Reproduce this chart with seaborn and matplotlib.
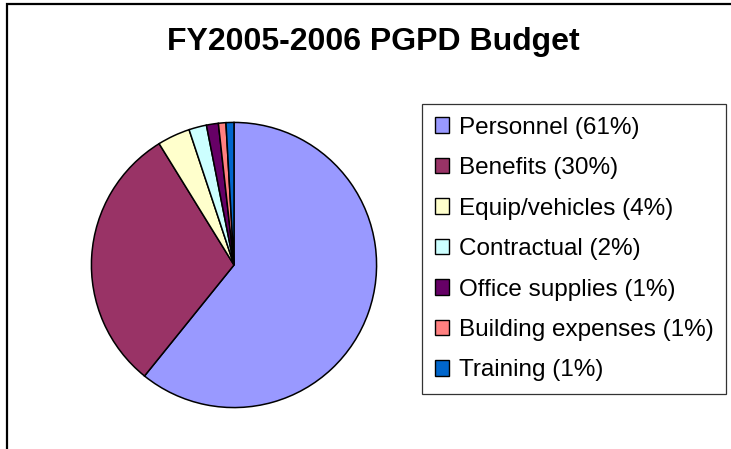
import matplotlib
matplotlib.use("Agg")
import matplotlib.pyplot as plt
import seaborn as sns
from matplotlib.patches import Patch, Rectangle

# budget shares (legend shows rounded values)
categories = ["Personnel", "Benefits", "Equip/vehicles", "Contractual",
              "Office supplies", "Building expenses", "Training"]
shares = [60.8, 30.4, 3.7, 2.0, 1.35, 0.85, 0.9]
legend_pct = [61, 30, 4, 2, 1, 1, 1]
colors = ["#9999FF", "#993366", "#FFFFCC", "#CCFFFF", "#660066", "#FF8080", "#0066CC"]

sns.set_theme(style="white")
plt.rcParams['font.family'] = ['Liberation Sans', 'DejaVu Sans']
plt.rcParams['text.color'] = 'black'

W, H = 731, 449
fig = plt.figure(figsize=(W / 100, H / 100), dpi=100)
fig.patch.set_facecolor("white")

# chart border (only top and left edges are inside the picture)
fig.add_artist(Rectangle((7 / W, -0.1), 1.2, 1.1 - 4 / H,
                         transform=fig.transFigure, fill=False,
                         edgecolor="black", linewidth=1.6))

fig.text(373 / W, 1 - 42 / H, "FY2005-2006 PGPD Budget", ha="center", va="center",
         fontsize=23, fontweight="bold", color="black")

# pie: centre (234, 265) px, radius 144 px
cx, cy, r = 234, 265, 144
ax = fig.add_axes([(cx - r) / W, (H - cy - r) / H, 2 * r / W, 2 * r / H])
ax.pie(shares, colors=colors, startangle=90, counterclock=False,
       wedgeprops=dict(edgecolor="black", linewidth=1.1))
ax.set_xlim(-1.01, 1.01)
ax.set_ylim(-1.01, 1.01)
ax.set_aspect("equal")
ax.axis("off")

handles = [Patch(facecolor=c, edgecolor="black", linewidth=1.0) for c in colors]
labels = [f"{n} ({p}%)" for n, p in zip(categories, legend_pct)]
leg = fig.legend(handles, labels, loc="upper left", mode="expand",
                 bbox_to_anchor=(422 / W, 1 - 390 / H, 304 / W, 286 / H),
                 fontsize=17.5, frameon=True, fancybox=False,
                 handlelength=0.6, handleheight=0.6, handletextpad=0.4,
                 labelspacing=0.76, borderpad=0.52, borderaxespad=0)
leg.get_frame().set_edgecolor("black")
leg.get_frame().set_linewidth(0.9)
for t in leg.get_texts():
    t.set_color("black")

fig.savefig("out.png", dpi=100, facecolor="white")
